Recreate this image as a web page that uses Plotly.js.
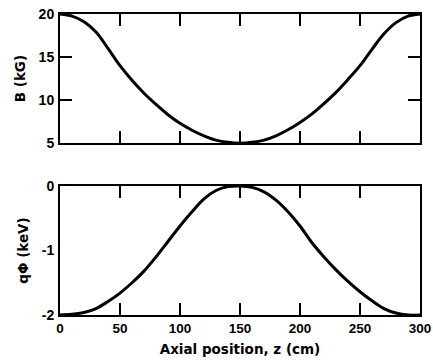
<!DOCTYPE html>
<html>
<head>
<meta charset="utf-8">
<script src="https://cdn.plot.ly/plotly-3.0.1.min.js"></script>
<style>html,body{margin:0;padding:0;background:#fff;}#chart{width:433px;height:364px;}</style>
</head>
<body>
<div id="chart"></div>
<script>
// Axial position z (cm)
const zPos = [0,10,20,30,40,50,60,70,80,90,100,110,120,130,140,150,160,170,180,190,200,210,220,230,240,250,260,270,280,290,300];
// Magnetic field B (kG)
const bField = [20,19.75,19.1,17.9,16.0,14.0,12.3,10.8,9.5,8.3,7.3,6.5,5.85,5.35,5.1,5.0,5.1,5.35,5.85,6.55,7.4,8.4,9.6,10.9,12.4,14.0,15.9,17.7,19.0,19.75,20];
// Potential qPhi (keV)
const qPhi = [-2.0,-1.99,-1.96,-1.90,-1.79,-1.66,-1.50,-1.32,-1.10,-0.86,-0.62,-0.40,-0.20,-0.07,-0.01,0,-0.02,-0.09,-0.22,-0.40,-0.62,-0.88,-1.10,-1.30,-1.48,-1.64,-1.78,-1.90,-1.97,-2.0,-2.0];
const xTicks = [0,50,100,150,200,250,300];
const xTickText = ["0","50","100","150","200","250","300"];
const bTicks = [5,10,15,20];
const bTickText = ["5","10","15","20"];
const phiTicks = [-2,-1,0];
const phiTickText = ["-2","-1","0"];

const fam = "DejaVu Sans, Liberation Sans, Arial, sans-serif";
const tickFam = "Liberation Sans, Arial, sans-serif";
const bold = s => "<b>" + s + "</b>";
const lineStyle = {color: "#000", width: 3, shape: "spline", smoothing: 1};

const traces = [
  {x: zPos, y: bField, type: "scatter", mode: "lines", line: lineStyle, xaxis: "x", yaxis: "y", showlegend: false, hoverinfo: "skip", cliponaxis: false},
  {x: zPos, y: qPhi, type: "scatter", mode: "lines", line: lineStyle, xaxis: "x2", yaxis: "y2", showlegend: false, hoverinfo: "skip", cliponaxis: false}
];

const axBase = {showline: true, linecolor: "#000", linewidth: 2, mirror: "allticks", showgrid: false, zeroline: false,
  ticks: "inside", tickcolor: "#000", tickwidth: 1.5, ticklen: 12, ticklabeloverflow: "allow",
  tickfont: {family: tickFam, size: 14, color: "#000"}};
const titleFont = {family: fam, size: 13.5, color: "#000"};

const layout = {
  width: 433, height: 364,
  margin: {l: 60, r: 13, t: 14, b: 49},
  paper_bgcolor: "#fff", plot_bgcolor: "#fff",
  font: {family: fam, size: 13, color: "#000"},
  xaxis: Object.assign({}, axBase, {domain: [0,1], range: [0,300], tickvals: xTicks, showticklabels: false, anchor: "y"}),
  yaxis: Object.assign({}, axBase, {domain: [0.571,1], range: [5,20], tickvals: bTicks, ticktext: bTickText.map(bold), anchor: "x", ticklabelstandoff: 1,
    title: {text: bold("B (kG)"), font: titleFont, standoff: 10}}),
  xaxis2: Object.assign({}, axBase, {domain: [0,1], range: [0,300], tickvals: xTicks, ticktext: xTickText.map(bold), anchor: "y2", ticklabelstandoff: 0, tickfont: {family: tickFam, size: 13.5, color: "#000"},
    title: {text: bold("Axial position, z (cm)"), font: titleFont, standoff: 9}}),
  yaxis2: Object.assign({}, axBase, {domain: [0,0.4286], range: [-2,0], tickvals: phiTicks, ticktext: phiTickText.map(bold), ticklen: 0, anchor: "x2", ticklabelstandoff: 1,
    title: {text: bold("qΦ (keV)"), font: titleFont, standoff: 10}})
};

Plotly.newPlot("chart", traces, layout, {staticPlot: true, displayModeBar: false});
</script>
</body>
</html>
